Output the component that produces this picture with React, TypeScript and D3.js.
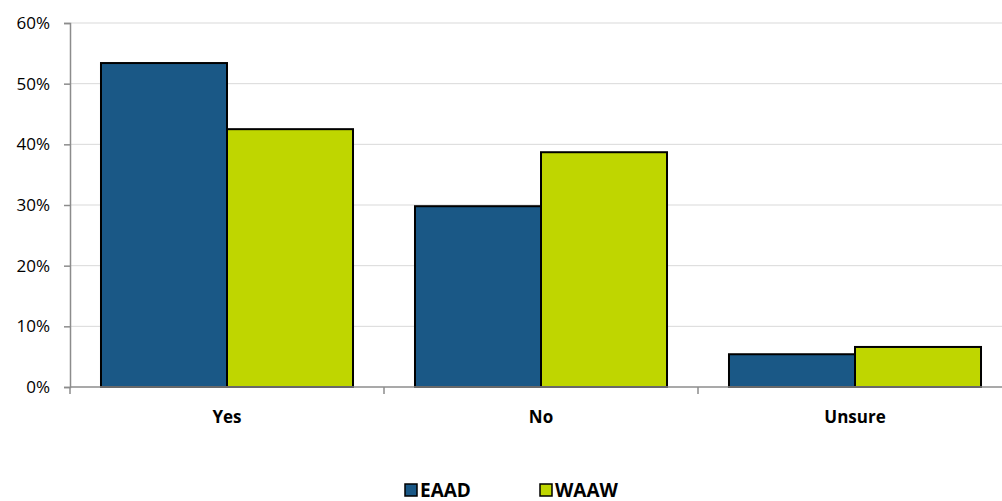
import React, { useEffect, useRef } from "react";
import * as d3 from "d3";

const categories = ["Yes", "No", "Unsure"];
const seriesNames = ["EAAD", "WAAW"];
const eaad = [53.4, 29.8, 5.4];
const waaw = [42.5, 38.7, 6.6];
const yTicks = [0, 10, 20, 30, 40, 50, 60];
const colors = ["#1a5886", "#bfd600"];

const W = 1002;
const H = 501;
const margin = { left: 70, top: 23, bottom: 114 };
const plotW = 942;

const App: React.FC = () => {
  const svgRef = useRef<SVGSVGElement>(null);

  useEffect(() => {
    const svg = d3.select(svgRef.current);
    svg.selectAll("*").remove();
    const font = "'Open Sans', Lato, sans-serif";

    const x0 = d3
      .scaleBand()
      .domain(categories)
      .range([margin.left, margin.left + plotW])
      .paddingInner(0)
      .paddingOuter(0);
    const inner = 0.0987;
    const x1 = d3
      .scaleBand()
      .domain(seriesNames)
      .range([x0.bandwidth() * inner, x0.bandwidth() * (1 - inner)]);
    const y = d3
      .scaleLinear()
      .domain([0, 60])
      .range([H - margin.bottom, margin.top]);

    // grid
    svg
      .append("g")
      .selectAll("line")
      .data(yTicks.filter((t) => t > 0))
      .join("line")
      .attr("x1", margin.left)
      .attr("x2", margin.left + plotW)
      .attr("y1", (d) => y(d))
      .attr("y2", (d) => y(d))
      .attr("stroke", "#d9d9d9")
      .attr("stroke-width", 1);

    // bars
    const rows = categories.map((c, i) => ({ cat: c, vals: [eaad[i], waaw[i]] }));
    svg
      .append("g")
      .selectAll("g")
      .data(rows)
      .join("g")
      .attr("transform", (d) => `translate(${x0(d.cat)},0)`)
      .selectAll("rect")
      .data((d) => d.vals.map((v, j) => ({ key: seriesNames[j], v, j })))
      .join("rect")
      .attr("x", (d) => x1(d.key)!)
      .attr("width", x1.bandwidth())
      .attr("y", (d) => y(d.v))
      .attr("height", (d) => y(0) - y(d.v))
      .attr("fill", (d) => colors[d.j])
      .attr("stroke", "#000")
      .attr("stroke-width", 2);

    // y axis
    const yAxis = svg
      .append("g")
      .attr("transform", `translate(${margin.left},0)`)
      .call(
        d3
          .axisLeft(y)
          .tickValues(yTicks)
          .tickSize(6)
          .tickPadding(14)
          .tickFormat((d) => `${d}%`)
      );
    yAxis.select(".domain").attr("stroke", "#8c8c8c").attr("stroke-width", 1.5);
    yAxis.selectAll(".tick line").attr("stroke", "#8c8c8c").attr("stroke-width", 1.5);
    yAxis
      .selectAll(".tick text")
      .attr("fill", "#000")
      .style("font-family", font)
      .style("font-size", "17px");

    // x axis
    const xAxisG = svg.append("g");
    xAxisG
      .append("line")
      .attr("x1", margin.left)
      .attr("x2", margin.left + plotW)
      .attr("y1", y(0))
      .attr("y2", y(0))
      .attr("stroke", "#8c8c8c")
      .attr("stroke-width", 1.5);
    const boundaries = categories.map((c) => x0(c)!).concat([margin.left + plotW]);
    xAxisG
      .selectAll("line.tk")
      .data(boundaries)
      .join("line")
      .attr("class", "tk")
      .attr("x1", (d) => d)
      .attr("x2", (d) => d)
      .attr("y1", y(0))
      .attr("y2", y(0) + 7)
      .attr("stroke", "#8c8c8c")
      .attr("stroke-width", 1.5);
    xAxisG
      .selectAll("text")
      .data(categories)
      .join("text")
      .attr("x", (d) => x0(d)! + x0.bandwidth() / 2)
      .attr("y", y(0) + 36)
      .attr("text-anchor", "middle")
      .style("font-family", font)
      .style("font-size", "17px")
      .style("font-weight", "bold")
      .text((d) => d);

    // legend
    const legendX = [405, 540];
    const leg = svg
      .append("g")
      .selectAll("g")
      .data(seriesNames)
      .join("g")
      .attr("transform", (d, i) => `translate(${legendX[i]},484)`);
    leg
      .append("rect")
      .attr("width", 12)
      .attr("height", 12)
      .attr("fill", (d, i) => colors[i])
      .attr("stroke", "#000")
      .attr("stroke-width", 1.5);
    leg
      .append("text")
      .attr("x", 15)
      .attr("y", 12.5)
      .style("font-family", font)
      .style("font-size", "19px")
      .style("font-weight", "bold")
      .text((d) => d);
  }, []);

  return (
    <svg
      ref={svgRef}
      width={W}
      height={H}
      style={{ position: "fixed", left: 0, top: 0, background: "#fff" }}
    />
  );
};

export default App;
